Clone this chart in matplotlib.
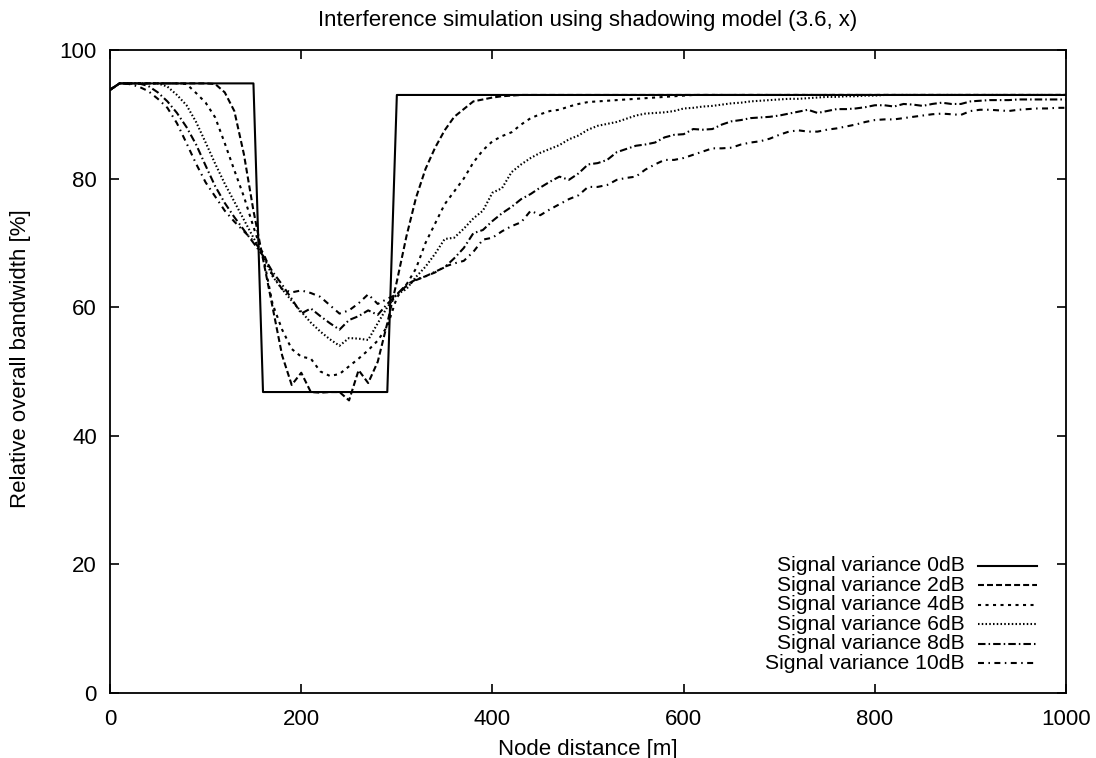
import numpy as np
import matplotlib
matplotlib.use("Agg")
import matplotlib.pyplot as plt

plt.rcParams['font.family'] = ['Liberation Sans', 'DejaVu Sans']
plt.rcParams['font.size'] = 16
plt.rcParams['lines.scale_dashes'] = False

# node distance in metres, one sample every 10 m
distance = np.arange(0, 1001, 10)

bw_0db = [93.8,
          94.8, 94.8, 94.8, 94.8, 94.8, 94.8, 94.8, 94.8, 94.8, 94.8,
          94.8, 94.8, 94.8, 94.8, 94.8, 46.8, 46.8, 46.8, 46.8, 46.8,
          46.8, 46.8, 46.8, 46.8, 46.8, 46.8, 46.8, 46.8, 46.8, 93.0,
          93.0, 93.0, 93.0, 93.0, 93.0, 93.0, 93.0, 93.0, 93.0, 93.0,
          93.0, 93.0, 93.0, 93.0, 93.0, 93.0, 93.0, 93.0, 93.0, 93.0,
          93.0, 93.0, 93.0, 93.0, 93.0, 93.0, 93.0, 93.0, 93.0, 93.0,
          93.0, 93.0, 93.0, 93.0, 93.0, 93.0, 93.0, 93.0, 93.0, 93.0,
          93.0, 93.0, 93.0, 93.0, 93.0, 93.0, 93.0, 93.0, 93.0, 93.0,
          93.0, 93.0, 93.0, 93.0, 93.0, 93.0, 93.0, 93.0, 93.0, 93.0,
          93.0, 93.0, 93.0, 93.0, 93.0, 93.0, 93.0, 93.0, 93.0, 93.0]

bw_2db = [93.8,
          94.8, 94.8, 94.8, 94.8, 94.8, 94.8, 94.8, 94.8, 94.8, 94.8,
          94.7, 93.4, 90.5, 83.8, 75.0, 67.5, 60.0, 52.5, 47.9, 49.8,
          46.8, 46.7, 46.8, 46.8, 45.5, 50.2, 48.2, 51.5, 57.5, 64.0,
          71.0, 77.0, 81.5, 84.8, 87.5, 89.6, 90.8, 92.0, 92.3, 92.6,
          92.8, 92.9, 93.0, 93.0, 93.0, 93.0, 93.0, 93.0, 93.0, 93.0,
          93.0, 93.0, 93.0, 93.0, 93.0, 93.0, 93.0, 93.0, 93.0, 93.0,
          93.0, 93.0, 93.0, 93.0, 93.0, 93.0, 93.0, 93.0, 93.0, 93.0,
          93.0, 93.0, 93.0, 93.0, 93.0, 93.0, 93.0, 93.0, 93.0, 93.0,
          93.0, 93.0, 93.0, 93.0, 93.0, 93.0, 93.0, 93.0, 93.0, 93.0,
          93.0, 93.0, 93.0, 93.0, 93.0, 93.0, 93.0, 93.0, 93.0, 93.0]

bw_4db = [93.8,
          94.8, 94.8, 94.8, 94.8, 94.8, 94.8, 94.8, 94.7, 93.3, 91.8,
          89.5, 85.5, 81.3, 77.2, 72.5, 68.0, 60.5, 56.5, 53.5, 52.3,
          52.0, 50.0, 49.3, 49.6, 50.8, 52.0, 53.3, 54.8, 57.0, 61.5,
          63.5, 66.0, 70.0, 73.0, 76.0, 78.0, 80.0, 82.5, 84.4, 85.8,
          86.6, 87.2, 88.4, 89.4, 90.0, 90.5, 90.7, 91.2, 91.6, 91.9,
          92.0, 92.1, 92.2, 92.3, 92.4, 92.5, 92.6, 92.7, 92.8, 92.9,
          93.0, 93.0, 93.0, 93.0, 93.0, 93.0, 93.0, 93.0, 93.0, 93.0,
          93.0, 93.0, 93.0, 93.0, 93.0, 93.0, 93.0, 93.0, 93.0, 93.0,
          93.0, 93.0, 93.0, 93.0, 93.0, 93.0, 93.0, 93.0, 93.0, 93.0,
          93.0, 93.0, 93.0, 93.0, 93.0, 93.0, 93.0, 93.0, 93.0, 93.0]

bw_6db = [93.8,
          94.8, 94.8, 94.8, 94.8, 94.8, 94.3, 93.0, 91.4, 88.8, 85.6,
          82.3, 79.2, 76.4, 73.6, 70.8, 68.0, 64.8, 62.8, 61.0, 59.3,
          57.6, 56.2, 55.0, 54.0, 55.2, 55.1, 54.9, 57.5, 60.0, 62.0,
          62.8, 64.7, 66.3, 68.3, 70.6, 70.8, 72.2, 73.8, 75.0, 77.8,
          78.5, 81.0, 82.2, 83.2, 84.0, 84.6, 85.2, 86.1, 86.7, 87.6,
          88.2, 88.5, 88.8, 89.3, 89.8, 90.1, 90.2, 90.3, 90.5, 90.9,
          91.0, 91.2, 91.3, 91.5, 91.7, 91.8, 92.0, 92.1, 92.2, 92.3,
          92.4, 92.4, 92.5, 92.6, 92.7, 92.7, 92.8, 92.8, 92.9, 92.9,
          93.0, 93.0, 93.0, 93.0, 93.0, 93.0, 93.0, 93.0, 93.0, 93.0,
          93.0, 93.0, 93.0, 93.0, 93.0, 93.0, 93.0, 93.0, 93.0, 93.0]

bw_8db = [93.8,
          94.8, 94.8, 94.8, 94.4, 93.4, 92.0, 90.2, 88.0, 85.3, 82.0,
          78.8, 76.2, 74.0, 72.0, 70.0, 68.0, 65.5, 63.5, 61.3, 59.0,
          59.8, 58.6, 57.5, 56.5, 58.0, 58.6, 59.5, 58.8, 60.5, 62.0,
          63.5, 64.3, 64.8, 65.5, 66.2, 67.6, 69.2, 71.5, 72.0, 73.4,
          74.6, 75.6, 76.8, 77.6, 78.6, 79.5, 80.3, 79.8, 80.8, 82.2,
          82.4, 82.9, 84.1, 84.6, 85.1, 85.3, 85.6, 86.4, 86.8, 86.9,
          87.7, 87.6, 87.7, 88.4, 88.9, 89.1, 89.4, 89.5, 89.6, 89.8,
          90.1, 90.4, 90.7, 90.2, 90.5, 90.8, 90.8, 90.9, 91.1, 91.4,
          91.4, 91.2, 91.6, 91.5, 91.3, 91.6, 91.8, 91.6, 91.6, 92.0,
          92.1, 92.2, 92.2, 92.2, 92.3, 92.3, 92.3, 92.3, 92.3, 92.3]

bw_10db = [93.8,
           94.8, 94.7, 94.3, 93.6, 92.4, 91.0, 88.6, 85.5, 82.3, 79.4,
           77.2, 75.0, 73.3, 71.8, 70.3, 68.5, 65.0, 62.8, 62.3, 62.6,
           62.2, 61.6, 60.3, 59.0, 59.5, 60.6, 62.0, 60.5, 61.3, 62.0,
           63.3, 64.2, 64.8, 65.4, 66.3, 66.8, 67.2, 68.6, 70.5, 70.8,
           71.8, 72.6, 73.2, 75.0, 74.3, 75.2, 76.0, 76.8, 77.4, 78.7,
           78.7, 79.0, 79.8, 80.1, 80.3, 81.4, 82.2, 82.9, 82.9, 83.2,
           83.7, 84.2, 84.7, 84.7, 84.8, 85.3, 85.6, 85.8, 86.2, 86.8,
           87.3, 87.5, 87.3, 87.3, 87.6, 87.8, 88.1, 88.4, 88.8, 89.1,
           89.2, 89.2, 89.4, 89.6, 89.8, 90.0, 90.1, 90.0, 89.9, 90.5,
           90.7, 90.7, 90.6, 90.5, 90.7, 90.8, 90.9, 90.9, 91.0, 91.0]

labels = ['Signal variance 0dB', 'Signal variance 2dB', 'Signal variance 4dB',
          'Signal variance 6dB', 'Signal variance 8dB', 'Signal variance 10dB']
values = [bw_0db, bw_2db, bw_4db, bw_6db, bw_8db, bw_10db]

# gnuplot-like dash patterns, in points
styles = ['-',
          (0, (4.3, 2.2)),
          (0, (2.2, 3.2)),
          (0, (1.1, 1.6)),
          (0, (5.4, 2.2, 1.1, 2.2)),
          (0, (4.3, 3.2, 1.1, 3.2))]

fig = plt.figure(figsize=(10.96, 7.58), dpi=100)
ax = fig.add_axes([0.1004, 0.0858, 0.8723, 0.8483])

for lab, vals, ls in zip(labels, values, styles):
    ax.plot(distance, vals, color='black', lw=1.5, linestyle=ls)

# key in the lower right corner, text right-aligned before the sample line
for i, (lab, ls) in enumerate(zip(labels, styles)):
    y = 0.1975 - i * 0.0302
    ax.text(0.894, y, lab, transform=ax.transAxes, ha='right', va='center',
            fontsize=15.2)
    ax.plot([0.908, 0.970], [y, y], transform=ax.transAxes,
            color='black', lw=1.5, linestyle=ls)

ax.set_xlim(0, 1000)
ax.set_ylim(0, 100)
ax.set_xticks([0, 200, 400, 600, 800, 1000])
ax.set_yticks([0, 20, 40, 60, 80, 100])
ax.tick_params(direction='in', length=6.5, width=1.2, top=True, right=True)
ax.tick_params(axis='x', pad=11.5)
ax.tick_params(axis='y', pad=9.5)
for sp in ax.spines.values():
    sp.set_linewidth(1.3)

ax.set_title('Interference simulation using shadowing model (3.6, x)',
             fontsize=16, pad=17.5)
ax.set_xlabel('Node distance [m]')
ax.set_ylabel('Relative overall bandwidth [%]')
ax.xaxis.set_label_coords(0.5, -0.0715)
ax.yaxis.set_label_coords(-0.083, 0.52)

fig.savefig('out.png', dpi=100)
